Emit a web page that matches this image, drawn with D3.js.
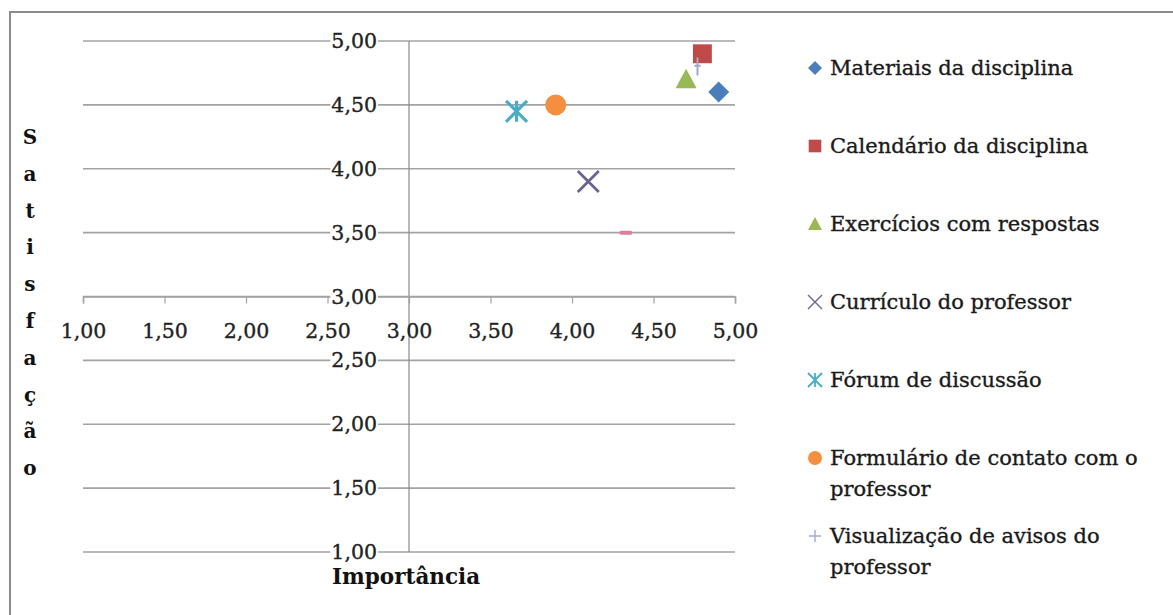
<!DOCTYPE html>
<html>
<head>
<meta charset="utf-8">
<script src="https://cdn.jsdelivr.net/npm/d3@7"></script>
<style>
  body { margin: 0; background: #fff; }
  svg { display: block; }
</style>
</head>
<body>
<svg id="chart" width="1173" height="615"></svg>
<script>
// ---- Data ----
const seriesNames = [
  "Materiais da disciplina",
  "Calendário da disciplina",
  "Exercícios com respostas",
  "Currículo do professor",
  "Fórum de discussão",
  "Formulário de contato com o professor",
  "Visualização de avisos do professor",
  ""
];
const legendLines = [
  ["Materiais da disciplina"],
  ["Calendário da disciplina"],
  ["Exercícios com respostas"],
  ["Currículo do professor"],
  ["Fórum de discussão"],
  ["Formulário de contato com o", "professor"],
  ["Visualização de avisos do", "professor"]
];
const importancia = [4.90, 4.80, 4.70, 4.10, 3.66, 3.90, 4.77, 4.33];
const satisfacao  = [4.60, 4.90, 4.70, 3.90, 4.45, 4.50, 4.80, 3.50];
const markerTypes = ["diamond", "square", "triangle", "x", "star", "circle", "plus", "dash"];
const colors = ["#4a7ebb", "#be4b48", "#98b954", "#6a6290", "#4aacc5", "#f38f3e", "#a3a9cc", "#e07e98"];
const tickValues = [1.00, 1.50, 2.00, 2.50, 3.00, 3.50, 4.00, 4.50, 5.00];
const xTitle = "Importância";
const yTitle = "Satisfação";

// ---- Layout ----
const svg = d3.select("#chart");
const FONT = "'DejaVu Serif', serif";
const x = d3.scaleLinear().domain([1, 5]).range([83, 735]);
const y = d3.scaleLinear().domain([1, 5]).range([552, 41]);
const fmt = v => d3.format(".2f")(v).replace(".", ",");

// outer border
svg.append("path")
  .attr("d", "M10,615 L10,12 L1173,12")
  .attr("fill", "none").attr("stroke", "#8c8c8c").attr("stroke-width", 2);

// horizontal gridlines
svg.append("g").selectAll("line").data(tickValues).join("line")
  .attr("x1", x(1)).attr("x2", x(5))
  .attr("y1", d => y(d)).attr("y2", d => y(d))
  .attr("stroke", "#a3a3a3").attr("stroke-width", 1.6);

// vertical axis line at x = 3
svg.append("line")
  .attr("x1", x(3)).attr("x2", x(3)).attr("y1", y(5)).attr("y2", y(1))
  .attr("stroke", "#8a8a8a").attr("stroke-width", 1.2);

// x axis at y = 3
const xAxis = d3.axisBottom(x).tickValues(tickValues).tickFormat(fmt)
  .tickSize(7).tickPadding(20);
const gx = svg.append("g").attr("transform", `translate(0,${y(3)})`).call(xAxis);
gx.select(".domain").attr("stroke", "#a3a3a3").attr("stroke-width", 1.6);
gx.selectAll(".tick line").attr("stroke", "#a3a3a3").attr("stroke-width", 1.2);
gx.selectAll(".tick text").attr("font-family", FONT).attr("font-size", 20.5)
  .attr("fill", "#222").attr("stroke", "#222").attr("stroke-width", 0.35);

// y axis at x = 3 (labels left of the line)
const yAxis = d3.axisLeft(y).tickValues(tickValues).tickFormat(fmt)
  .tickSize(0).tickPadding(32);
const gy = svg.append("g").attr("transform", `translate(${x(3)},0)`).call(yAxis);
gy.select(".domain").remove();
gy.selectAll(".tick text").attr("font-family", FONT).attr("font-size", 20.5)
  .attr("fill", "#222").attr("stroke", "#222").attr("stroke-width", 0.35);
gy.selectAll(".tick").each(function() {
  const t = d3.select(this).select("text");
  const bb = t.node().getBBox();
  d3.select(this).insert("rect", "text")
    .attr("x", bb.x - 1).attr("y", bb.y + 3).attr("width", bb.width + 2).attr("height", bb.height - 6)
    .attr("fill", "#fff");
});

// axis titles
svg.append("text")
  .attr("x", 332).attr("y", 584)
  .attr("font-family", FONT).attr("font-weight", "bold").attr("font-size", 21.5)
  .attr("fill", "#111").text(xTitle);

const yt = svg.append("text")
  .attr("font-family", FONT).attr("font-weight", "bold").attr("font-size", 20)
  .attr("fill", "#111").attr("text-anchor", "middle");
yt.selectAll("tspan").data(Array.from(yTitle)).join("tspan")
  .attr("x", 30)
  .attr("y", (d, i) => 144 + i * 36.8)
  .text(d => d);

// ---- markers ----
function drawMarker(g, type, color, s, legendMode) {
  const h = s / 2;
  switch (type) {
    case "diamond":
      g.append("path").attr("d", `M0,${-h}L${h},0L0,${h}L${-h},0Z`).attr("fill", color);
      break;
    case "square":
      g.append("rect").attr("x", -h * 0.9).attr("y", -h * 0.9).attr("width", s * 0.9).attr("height", s * 0.9).attr("fill", color);
      break;
    case "triangle":
      g.append("path").attr("d", `M0,${-h}L${h},${h * 0.85}L${-h},${h * 0.85}Z`).attr("fill", color);
      break;
    case "circle":
      g.append("circle").attr("r", h).attr("fill", color);
      break;
    case "x":
      g.append("path").attr("d", `M${-h},${-h}L${h},${h}M${-h},${h}L${h},${-h}`)
        .attr("stroke", color).attr("stroke-width", legendMode ? 1.4 : s * 0.13).attr("fill", "none");
      break;
    case "star":
      g.append("path").attr("d", `M${-h},${-h}L${h},${h}M${-h},${h}L${h},${-h}M0,${-h}L0,${h}`)
        .attr("stroke", color).attr("stroke-width", legendMode ? 1.8 : s * 0.15).attr("fill", "none");
      break;
    case "plus": {
      const a = legendMode ? h : h * 0.35;
      const off = legendMode ? 0 : -h * 0.1;
      g.append("path").attr("d", `M0,${-h}L0,${h}M${-a},${off}L${a},${off}`)
        .attr("stroke", color).attr("stroke-width", legendMode ? 1.4 : 2).attr("fill", "none");
      break;
    }
    case "dash":
      g.append("rect").attr("x", -h * 0.65).attr("y", -2).attr("width", s * 0.65).attr("height", 4)
        .attr("rx", 2).attr("fill", color);
      break;
  }
}

const points = importancia.map((v, i) => ({ x: v, y: satisfacao[i], type: markerTypes[i], color: colors[i], name: seriesNames[i] }));
const drawOrder = [7, 3, 4, 5, 0, 1, 2, 6];
drawOrder.forEach(i => {
  const p = points[i];
  const g = svg.append("g").attr("transform", `translate(${x(p.x)},${y(p.y)})`);
  const size = p.type === "plus" ? 18 : (p.type === "dash" ? 20 : 21);
  drawMarker(g, p.type, p.color, size, false);
});

// ---- legend ----
const legend = svg.append("g");
legendLines.forEach((lines, i) => {
  const cy = 68 + i * 78;
  const mg = legend.append("g").attr("transform", `translate(815,${cy})`);
  drawMarker(mg, markerTypes[i], colors[i], markerTypes[i] === "plus" ? 12 : 14, true);
  const t = legend.append("text").attr("font-family", FONT).attr("font-size", 21)
    .attr("fill", "#1a1a1a").attr("stroke", "#1a1a1a").attr("stroke-width", 0.35);
  lines.forEach((ln, j) => {
    t.append("tspan").attr("x", 830).attr("y", cy + 7 + j * 31).text(ln);
  });
});
</script>
</body>
</html>
